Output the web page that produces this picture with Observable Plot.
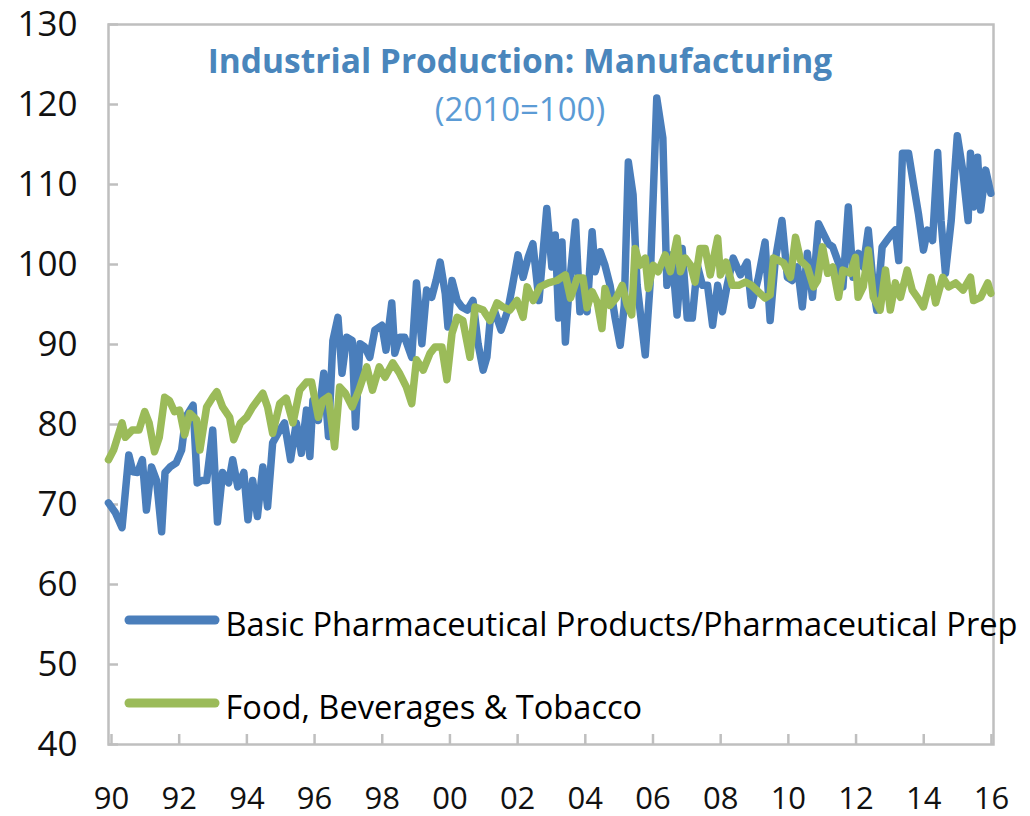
<!DOCTYPE html>
<html>
<head>
<meta charset="utf-8">
<script src="https://cdn.jsdelivr.net/npm/d3@7"></script>
<script src="https://cdn.jsdelivr.net/npm/@observablehq/plot@0.6"></script>
<style>
  html, body { margin: 0; padding: 0; background: #fff; }
  #chart { width: 1030px; height: 816px; }
</style>
</head>
<body>
<div id="chart"></div>
<script>
const titleText = "Industrial Production: Manufacturing";
const subtitleText = "(2010=100)";
const seriesNames = ["Basic Pharmaceutical Products/Pharmaceutical Prep", "Food, Beverages & Tobacco"];
const seriesColors = ["#4A7EBB", "#9BBB59"];

const yTicks = [40, 50, 60, 70, 80, 90, 100, 110, 120, 130];
const xTicks = [1990, 1992, 1994, 1996, 1998, 2000, 2002, 2004, 2006, 2008, 2010, 2012, 2014, 2016];
const xTickLabels = ["90", "92", "94", "96", "98", "00", "02", "04", "06", "08", "10", "12", "14", "16"];

const pharmaYears = [
  1990.00, 1990.20, 1990.40, 1990.60, 1990.72, 1990.86, 1991.00, 1991.12, 1991.27, 1991.42,
  1991.57, 1991.67, 1991.82, 1992.00, 1992.16, 1992.28, 1992.50, 1992.62, 1992.75, 1992.90,
  1993.08, 1993.22, 1993.37, 1993.55, 1993.67, 1993.82, 1994.00, 1994.12, 1994.26, 1994.40,
  1994.56, 1994.70, 1994.85, 1995.06, 1995.20, 1995.38, 1995.55, 1995.70, 1995.85, 1995.95,
  1996.04, 1996.20, 1996.36, 1996.50, 1996.63, 1996.78, 1996.90, 1997.04, 1997.20, 1997.30,
  1997.43, 1997.57, 1997.72, 1997.87, 1998.08, 1998.20, 1998.37, 1998.46, 1998.60, 1998.75,
  1998.96, 1999.10, 1999.26, 1999.40, 1999.55, 1999.68, 1999.80, 1999.95, 2000.03, 2000.15,
  2000.30, 2000.44, 2000.60, 2000.77, 2000.92, 2001.07, 2001.18, 2001.27, 2001.40, 2001.60,
  2001.80, 2001.93, 2002.10, 2002.25, 2002.40, 2002.54, 2002.72, 2002.95, 2003.10, 2003.20,
  2003.30, 2003.40, 2003.50, 2003.60, 2003.80, 2003.93, 2004.02, 2004.14, 2004.29, 2004.38,
  2004.53, 2004.67, 2004.82, 2004.97, 2005.12, 2005.24, 2005.36, 2005.50, 2005.62, 2005.86,
  2006.00, 2006.20, 2006.38, 2006.50, 2006.65, 2006.80, 2006.95, 2007.10, 2007.25, 2007.40,
  2007.55, 2007.70, 2007.85, 2008.00, 2008.14, 2008.28, 2008.46, 2008.67, 2008.87, 2009.00,
  2009.20, 2009.40, 2009.55, 2009.70, 2009.90, 2010.06, 2010.20, 2010.36, 2010.50, 2010.65,
  2010.80, 2010.98, 2011.12, 2011.27, 2011.40, 2011.57, 2011.70, 2011.86, 2012.00, 2012.16,
  2012.30, 2012.45, 2012.60, 2012.70, 2012.86, 2013.00, 2013.16, 2013.25, 2013.35, 2013.46,
  2013.64, 2013.80, 2013.93, 2014.08, 2014.20, 2014.35, 2014.50, 2014.60, 2014.73, 2014.90,
  2015.08, 2015.24, 2015.40, 2015.47, 2015.56, 2015.68, 2015.77, 2015.92, 2016.07
];
const pharmaValues = [
  70.2, 69.0, 67.1, 76.2, 74.1, 74.0, 75.6, 69.3, 74.7, 73.0,
  66.6, 74.0, 74.7, 75.2, 76.8, 80.9, 82.4, 72.7, 73.0, 73.0,
  79.3, 67.8, 74.0, 72.7, 75.6, 72.2, 74.0, 68.1, 73.0, 68.5,
  74.7, 69.7, 77.7, 79.3, 80.2, 75.6, 80.2, 76.4, 81.8, 76.0,
  83.0, 80.5, 86.4, 78.5, 90.5, 93.4, 86.4, 90.9, 90.5, 79.7,
  90.1, 89.7, 88.4, 91.8, 92.4, 89.3, 95.2, 88.9, 90.9, 90.9,
  88.4, 97.7, 90.1, 96.8, 95.9, 98.0, 100.3, 96.4, 92.2, 98.0,
  95.5, 94.7, 94.3, 95.5, 90.1, 86.8, 88.4, 92.7, 94.3, 91.8,
  94.3, 97.2, 101.2, 98.4, 100.9, 102.6, 95.5, 107.0, 99.7, 103.7,
  93.3, 102.8, 90.3, 96.6, 105.3, 94.1, 97.4, 94.1, 104.1, 99.1,
  101.6, 99.9, 97.4, 93.3, 89.9, 94.9, 112.8, 108.7, 97.4, 88.7,
  97.4, 120.8, 115.8, 97.4, 101.2, 93.7, 102.0, 93.3, 93.3, 99.9,
  97.4, 97.4, 92.4, 97.4, 94.1, 97.4, 100.8, 98.7, 100.3, 94.9,
  98.3, 102.8, 93.0, 100.5, 105.5, 98.4, 98.0, 99.7, 94.7, 101.4,
  95.9, 105.1, 103.9, 102.6, 102.2, 100.2, 97.2, 107.2, 98.4, 101.4,
  99.7, 104.3, 97.2, 94.3, 102.2, 103.0, 103.9, 104.3, 100.5, 113.9,
  113.9, 109.7, 106.4, 101.8, 104.3, 103.0, 114.0, 105.5, 98.9, 105.5,
  116.1, 111.8, 105.5, 113.9, 107.2, 113.4, 106.8, 111.8, 108.9
];

const foodYears = [
  1990.00, 1990.15, 1990.40, 1990.50, 1990.70, 1990.90, 1991.07, 1991.20, 1991.36, 1991.50,
  1991.66, 1991.80, 1991.95, 1992.10, 1992.25, 1992.40, 1992.60, 1992.70, 1992.90, 1993.08,
  1993.20, 1993.37, 1993.58, 1993.70, 1993.90, 1994.08, 1994.26, 1994.40, 1994.56, 1994.70,
  1994.85, 1995.06, 1995.25, 1995.45, 1995.65, 1995.85, 1996.00, 1996.20, 1996.33, 1996.50,
  1996.68, 1996.83, 1997.00, 1997.20, 1997.40, 1997.63, 1997.80, 1998.00, 1998.17, 1998.40,
  1998.60, 1998.80, 1998.96, 1999.10, 1999.30, 1999.50, 1999.65, 1999.85, 2000.00, 2000.15,
  2000.30, 2000.47, 2000.68, 2000.83, 2001.07, 2001.27, 2001.48, 2001.65, 2001.86, 2002.07,
  2002.25, 2002.37, 2002.55, 2002.75, 2003.00, 2003.25, 2003.50, 2003.65, 2003.85, 2004.02,
  2004.14, 2004.29, 2004.44, 2004.58, 2004.67, 2004.82, 2005.00, 2005.18, 2005.33, 2005.46,
  2005.56, 2005.70, 2005.86, 2005.95, 2006.10, 2006.24, 2006.45, 2006.60, 2006.80, 2006.90,
  2007.04, 2007.20, 2007.33, 2007.48, 2007.63, 2007.78, 2008.00, 2008.08, 2008.25, 2008.43,
  2008.62, 2008.82, 2009.00, 2009.20, 2009.40, 2009.55, 2009.65, 2009.80, 2009.95, 2010.15,
  2010.30, 2010.45, 2010.65, 2010.83, 2010.95, 2011.10, 2011.25, 2011.40, 2011.57, 2011.70,
  2011.92, 2012.07, 2012.15, 2012.30, 2012.45, 2012.60, 2012.80, 2012.96, 2013.10, 2013.25,
  2013.40, 2013.60, 2013.75, 2013.90, 2014.08, 2014.30, 2014.44, 2014.65, 2014.82, 2015.03,
  2015.25, 2015.47, 2015.56, 2015.77, 2015.98, 2016.07
];
const foodValues = [
  75.6, 76.8, 80.2, 78.4, 79.3, 79.3, 81.6, 80.2, 76.6, 78.4,
  83.4, 83.0, 81.6, 81.8, 78.7, 81.4, 80.6, 76.8, 82.2, 83.4,
  84.1, 82.2, 80.9, 78.1, 80.2, 80.9, 82.2, 83.0, 83.9, 82.2,
  78.9, 82.6, 83.3, 80.2, 84.3, 85.3, 85.3, 80.9, 83.0, 83.5,
  77.2, 84.7, 83.9, 82.2, 84.3, 87.2, 84.3, 87.2, 85.9, 87.7,
  86.4, 84.7, 82.6, 88.1, 86.8, 88.9, 89.7, 89.7, 85.6, 91.4,
  93.4, 93.0, 88.4, 94.7, 94.3, 93.0, 95.2, 94.7, 94.3, 95.5,
  93.4, 97.2, 95.5, 97.2, 97.7, 98.0, 98.7, 95.8, 98.3, 98.3,
  94.6, 96.6, 95.3, 92.0, 97.0, 94.9, 95.8, 97.4, 94.9, 93.7,
  102.0, 99.9, 100.8, 97.0, 99.9, 99.1, 101.2, 99.1, 103.3, 99.1,
  100.8, 99.9, 97.8, 102.0, 102.0, 98.7, 103.3, 98.7, 100.3, 97.4,
  97.4, 97.8, 97.4, 96.6, 95.8, 96.2, 100.8, 100.5, 100.2, 98.4,
  103.4, 100.5, 99.7, 97.2, 98.0, 102.2, 98.9, 99.7, 95.9, 99.3,
  98.9, 100.9, 95.9, 97.2, 101.8, 95.9, 94.3, 99.3, 94.3, 97.7,
  95.9, 99.3, 96.8, 95.9, 94.7, 98.4, 95.2, 98.4, 97.2, 97.7,
  96.8, 98.4, 95.5, 95.9, 97.7, 96.4
];

const pharma = pharmaYears.map((x, i) => ({x, y: pharmaValues[i]}));
const food = foodYears.map((x, i) => ({x, y: foodValues[i]}));

const FONT = "'Open Sans', sans-serif";
const frameGrey = "#BFBFBF";
const LINE_W = 7.5;

const chart = Plot.plot({
  width: 1030,
  height: 816,
  marginLeft: 108,
  marginRight: 37,
  marginTop: 24,
  marginBottom: 72,
  style: {fontFamily: FONT, background: "#fff", color: "#000", overflow: "visible"},
  x: {domain: [1990, 2016.15], type: "linear"},
  y: {domain: [40, 130]},
  marks: [
    Plot.frame({stroke: frameGrey, strokeWidth: 2.5}),
    Plot.axisY({ticks: yTicks, tickSize: -10, tickPadding: 41, stroke: frameGrey, strokeWidth: 2.5,
      fontSize: 35, fill: "#111", label: null}),
    Plot.axisX({ticks: xTicks, tickSize: -10, tickPadding: 52, stroke: frameGrey, strokeWidth: 2.5,
      tickFormat: (d) => xTickLabels[xTicks.indexOf(d)], fontSize: 31, fill: "#111", dx: 3, label: null}),
    Plot.line(pharma, {x: "x", y: "y", stroke: seriesColors[0], strokeWidth: LINE_W, strokeLinejoin: "round", strokeLinecap: "round"}),
    Plot.line(food, {x: "x", y: "y", stroke: seriesColors[1], strokeWidth: LINE_W, strokeLinejoin: "round", strokeLinecap: "round"}),
    Plot.text([titleText], {text: (d) => d, frameAnchor: "top", lineAnchor: "bottom", dx: -31, dy: 48,
      fontSize: 33.5, fontWeight: "bold", fill: "#4A86BC"}),
    Plot.text([subtitleText], {text: (d) => d, frameAnchor: "top", lineAnchor: "bottom", dx: -31, dy: 96,
      fontSize: 33, fill: "#5B9BD5"}),
    Plot.text([seriesNames[0]], {text: (d) => d, frameAnchor: "bottom-left", textAnchor: "start", lineAnchor: "bottom",
      dx: 117, dy: -109, fontSize: 32.6, fill: "#000"}),
    Plot.text([seriesNames[1]], {text: (d) => d, frameAnchor: "bottom-left", textAnchor: "start", lineAnchor: "bottom",
      dx: 117, dy: -26, fontSize: 32.6, fill: "#000"})
  ]
});

// legend swatches (pixel positions inside the frame)
const svg = d3.select(chart);
const swatchY = [620, 703];
seriesColors.forEach((c, i) => {
  svg.append("line")
    .attr("x1", 129).attr("x2", 215)
    .attr("y1", swatchY[i]).attr("y2", swatchY[i])
    .attr("stroke", c).attr("stroke-width", 9).attr("stroke-linecap", "round");
});
document.getElementById("chart").appendChild(chart);
</script>
</body>
</html>
